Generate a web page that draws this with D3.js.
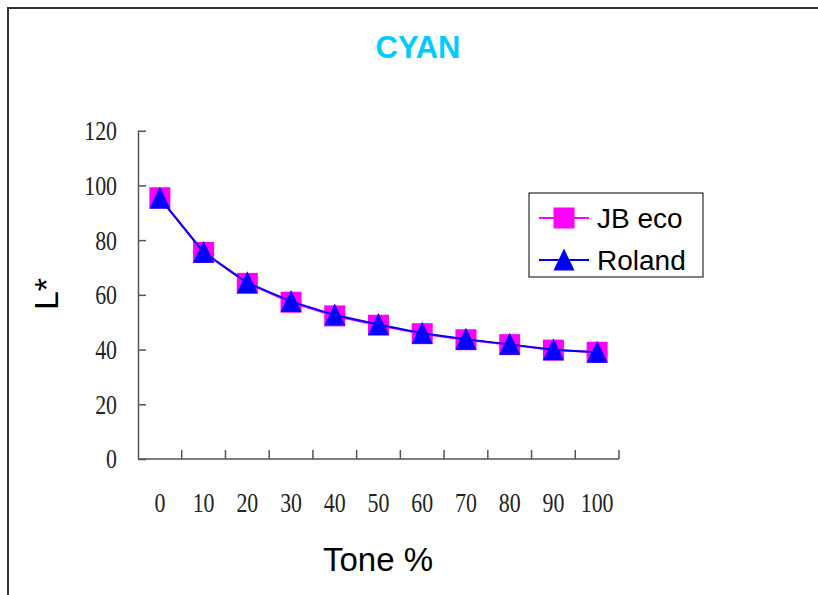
<!DOCTYPE html>
<html>
<head>
<meta charset="utf-8">
<script src="https://cdn.jsdelivr.net/npm/d3@7"></script>
<style>
  html, body { margin: 0; padding: 0; background: #fff; }
  svg { display: block; }
</style>
</head>
<body>
<svg id="chart" width="818" height="595"></svg>
<script>
const categories = ["0","10","20","30","40","50","60","70","80","90","100"];
const jbEco  = [95.5, 75.5, 64.2, 57.3, 52.3, 48.9, 45.8, 43.6, 41.8, 39.8, 39.0];
const roland = [95.3, 75.6, 64.4, 57.6, 52.6, 49.2, 46.0, 43.8, 41.9, 39.9, 39.0];
const yTicks = [0, 20, 40, 60, 80, 100, 120];
const seriesNames = ["JB eco", "Roland"];
const titleText = "CYAN";
const xTitle = "Tone %";
const yTitle = "L*";

const svg = d3.select("#chart");
const W = 818, H = 595;
const plot = {left: 138, right: 619, top: 130.7, bottom: 459};

// outer frame (extends beyond visible area on right and bottom)
svg.append("rect")
  .attr("x", 8).attr("y", 8)
  .attr("width", W + 40).attr("height", H + 40)
  .attr("fill", "#fff").attr("stroke", "#333").attr("stroke-width", 2);

const x = d3.scaleBand().domain(categories).range([plot.left, plot.right]).padding(0);
const y = d3.scaleLinear().domain([0, 120]).range([plot.bottom, plot.top]);
const cx = c => x(c) + x.bandwidth() / 2;

const axisColor = "#555";
const numFont = "'Liberation Serif', 'Times New Roman', serif";
const sansFont = "'Liberation Sans', Arial, sans-serif";
const numSize = 27, numScale = 0.81;

// Y axis
const yAxis = svg.append("g")
  .attr("transform", `translate(${plot.left},0)`)
  .call(d3.axisLeft(y).tickValues(yTicks).tickSize(-8).tickPadding(21).tickSizeOuter(0));
yAxis.select(".domain").attr("stroke", axisColor).attr("stroke-width", 1.5);
yAxis.selectAll(".tick line").attr("stroke", axisColor).attr("stroke-width", 1.5);
yAxis.selectAll(".tick text")
  .attr("font-family", numFont).attr("font-size", numSize).attr("fill", "#222")
  .attr("x", -21 / numScale)
  .attr("transform", `scale(${numScale},1)`)
  .attr("dy", "0.33em");

// X axis line
svg.append("line")
  .attr("x1", plot.left).attr("x2", plot.right)
  .attr("y1", y(0)).attr("y2", y(0))
  .attr("stroke", axisColor).attr("stroke-width", 1.5);
const boundaries = categories.map(c => x(c)).concat([x.range()[1]]);
svg.append("g").selectAll("line").data(boundaries.slice(1)).join("line")
  .attr("x1", d => d).attr("x2", d => d)
  .attr("y1", y(0)).attr("y2", y(0) - 9)
  .attr("stroke", axisColor).attr("stroke-width", 1.5);
svg.append("g").selectAll("text").data(categories).join("text")
  .attr("transform", d => `translate(${cx(d)},512) scale(${numScale},1)`)
  .attr("text-anchor", "middle")
  .attr("font-family", numFont).attr("font-size", numSize).attr("fill", "#222")
  .text(d => d);

// Titles
svg.append("text")
  .attr("x", 418).attr("y", 58)
  .attr("text-anchor", "middle")
  .attr("font-family", sansFont).attr("font-weight", "bold")
  .attr("font-size", 31).attr("fill", "#00CCFF")
  .text(titleText);

svg.append("text")
  .attr("x", 378).attr("y", 571)
  .attr("text-anchor", "middle")
  .attr("font-family", sansFont).attr("font-size", 33).attr("fill", "#000")
  .text(xTitle);

svg.append("text")
  .attr("transform", "translate(58,294) rotate(-90)")
  .attr("text-anchor", "middle")
  .attr("font-family", sansFont).attr("font-size", 34).attr("fill", "#000")
  .text(yTitle);

// Series
const line = d3.line().x((d, i) => cx(categories[i])).y(d => y(d));
const squarePath = "M-10.5,-10.5H10.5V10.5H-10.5Z";
const triPath = "M0,-11.5L10.5,10.5L-10.5,10.5Z";

const series = [
  {name: seriesNames[0], values: jbEco, color: "#FF00FF", marker: squarePath},
  {name: seriesNames[1], values: roland, color: "#0000FF", marker: triPath}
];

series.forEach(s => {
  svg.append("path").datum(s.values)
    .attr("d", line).attr("fill", "none")
    .attr("stroke", s.color).attr("stroke-width", 2);
  svg.append("g").selectAll("path").data(s.values).join("path")
    .attr("transform", (d, i) => `translate(${cx(categories[i])},${y(d)})`)
    .attr("d", s.marker).attr("fill", s.color);
});

// Legend
const lg = svg.append("g");
lg.append("rect")
  .attr("x", 529).attr("y", 193).attr("width", 174).attr("height", 84)
  .attr("fill", "#fff").attr("stroke", "#000").attr("stroke-width", 1);
series.forEach((s, i) => {
  const ry = 218 + i * 42;
  lg.append("line").attr("x1", 539).attr("x2", 589).attr("y1", ry).attr("y2", ry)
    .attr("stroke", s.color).attr("stroke-width", 2);
  lg.append("path").attr("transform", `translate(564,${ry})`)
    .attr("d", s.marker).attr("fill", s.color);
  lg.append("text").attr("x", 597).attr("y", ry + 10)
    .attr("font-family", sansFont).attr("font-size", 28).attr("fill", "#000")
    .text(s.name);
});
</script>
</body>
</html>
